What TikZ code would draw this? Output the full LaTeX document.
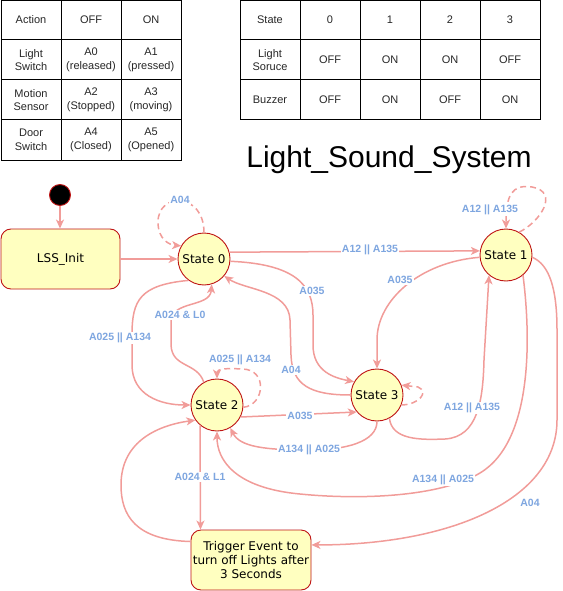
\documentclass[tikz,border=0pt]{standalone}
\usepackage{fontspec}
\setmainfont{Liberation Sans}
\newfontfamily\statefont{DejaVu Sans}
\usetikzlibrary{arrows.meta}

\definecolor{edgepink}{RGB}{241,156,153}
\definecolor{lblblue}{RGB}{126,166,224}
\definecolor{statefill}{RGB}{255,255,192}
\definecolor{stateline}{RGB}{190,20,20}

\tikzset{
  gridline/.style={draw=black, line width=1pt},
  cell/.style={font=\fontsize{11}{13.5}\selectfont, align=center, text=black!85, inner sep=0pt},
  stateball/.style={circle, draw=stateline, fill=statefill, line width=0.9pt, minimum size=52pt, inner sep=0pt, font=\statefont\fontsize{12}{14}\selectfont},
  statebox/.style={rectangle, rounded corners=10pt, draw=stateline, fill=statefill, line width=0.9pt, align=center, inner sep=0pt, font=\statefont\fontsize{12}{14.2}\selectfont},
  trans/.style={draw=edgepink, line width=1.5pt, -{Stealth[length=9pt,width=8pt,inset=2.5pt]}},
  selfloop/.style={trans, dash pattern=on 6pt off 4pt},
  translbl/.style={fill=white, inner sep=1pt, text=lblblue, font=\fontsize{10.5}{12}\selectfont\bfseries}
}

\begin{document}
\begin{tikzpicture}[x=1pt,y=1pt,yscale=-1,xscale=1]
\useasboundingbox (0,0) rectangle (562,591);

% Action table
\draw[gridline] (1,1) rectangle (181,160);
\foreach \gx in {61,121} \draw[gridline] (\gx,1) -- (\gx,160);
\foreach \gy in {40,80,120} \draw[gridline] (1,\gy) -- (181,\gy);
\foreach \cx/\cy/\ctext [count=\ci] in {31/20/Action, 91/20/OFF, 151/20/ON,
    31/60/{Light\\Switch}, 91/60/{A0\\(released)}, 151/60/{A1\\(pressed)},
    31/100/{Motion\\Sensor}, 91/100/{A2\\(Stopped)}, 151/100/{A3\\(moving)},
    31/140/{Door\\Switch}, 91/140/{A4\\(Closed)}, 151/140/{A5\\(Opened)}}
  \node[cell] (act\ci) at (\cx,\cy) {\ctext};

% State table
\draw[gridline] (240,1) rectangle (540,120);
\foreach \gx in {300,360,420,480} \draw[gridline] (\gx,1) -- (\gx,120);
\foreach \gy in {40,80} \draw[gridline] (240,\gy) -- (540,\gy);
\foreach \cx/\cy/\ctext [count=\ci] in {270/20/State, 330/20/0, 390/20/1, 450/20/2, 510/20/3,
    270/60/{Light\\Soruce}, 330/60/OFF, 390/60/ON, 450/60/ON, 510/60/OFF,
    270/100/Buzzer, 330/100/OFF, 390/100/ON, 450/100/OFF, 510/100/ON}
  \node[cell] (out\ci) at (\cx,\cy) {\ctext};

% Title
\node[anchor=base, inner sep=0pt, font=\fontsize{30}{35}\selectfont] (title) at (389,167) {Light\_Sound\_System};

% States
\node[circle, fill=black, draw=stateline, line width=0.9pt, minimum size=21pt, inner sep=0pt] (dot) at (60,195) {};
\node[statebox, minimum width=119pt, minimum height=60pt] (lss) at (60.5,259) {LSS\_Init};
\node[stateball] (s0) at (204,259) {State 0};
\node[stateball] (s1) at (506,255) {State 1};
\node[stateball] (s2) at (217,405) {State 2};
\node[stateball] (s3) at (377,395) {State 3};
\node[statebox, minimum width=120pt, minimum height=60pt] (trig) at (251,560) {Trigger Event to\\turn off Lights after\\3 Seconds};

% Transitions
\draw[trans] (dot.south) -- (dot.south |- lss.north);
\draw[trans] (lss.east) -- (s0.west);
\draw[selfloop] (s0.90) .. controls (204,192) and (158,192) .. (158,222) .. controls (158,240) and (170,245) .. (s0.150);
\draw[trans] (s0.15) -- (s1.171);
\draw[selfloop] (s1.60) .. controls (540,222) and (560,192) .. (532,187) .. controls (512,184) and (506,195) .. (s1.90);
\draw[trans] (s0.-5) .. controls (295,264) and (313,285) .. (313,315) -- (313,345) .. controls (313,372) and (335,378) .. (s3.150);
\draw[trans] (s3.180) .. controls (310,395) and (292,385) .. (291,355) -- (290,320) .. controls (289,290) and (245,290) .. (s0.-40);
\draw[trans] (s0.234) .. controls (140,285) and (132,300) .. (132,335) -- (132,365) .. controls (132,395) and (160,405) .. (s2.180);
\draw[trans] (s2.120) .. controls (197,362) and (172,368) .. (171,345) -- (171,322) .. controls (171,300) and (210,308) .. (s0.-73);
\draw[selfloop] (s2.-5) .. controls (265,405) and (268,369) .. (242,369) .. controls (225,368) and (217,369) .. (s2.90);
\draw[trans] (s2.-27) -- (s3.220);
\draw[trans] (s3.-90) .. controls (377,442) and (345,450) .. (310,450) .. controls (265,450) and (240,447) .. (s2.-60);
\draw[trans] (s1.185) .. controls (420,262) and (377,300) .. (377,340) -- (s3.90);
\draw[selfloop] (s3.-22) .. controls (418,405) and (430,392) .. (418,387) -- (s3.22);
\draw[trans] (s3.-62) .. controls (392,440) and (420,440) .. (445,439) .. controls (478,437) and (483,400) .. (484,360) -- (s1.230);
\draw[trans] (s1.-50) .. controls (530,330) and (535,440) .. (480,473) .. controls (440,497) and (360,500) .. (300,494) .. controls (235,488) and (217,460) .. (s2.-90);
\draw[trans] (s1.-5) .. controls (550,265) and (557,290) .. (557,330) -- (557,420) .. controls (557,500) and (450,545) .. (trig.14);
\draw[trans] (trig.163) .. controls (135,540) and (121,515) .. (121,485) .. controls (121,440) and (160,425) .. (s2.215);
\draw[trans] (s2.-130) -- ([xshift=-50.5pt]trig.north);

% Transition labels
\node[translbl] (l1) at (180,200) {A04};
\node[translbl] (l2) at (370,250) {A12 || A135};
\node[translbl] (l3) at (490,210) {A12 || A135};
\node[translbl] (l4) at (312,291) {A035};
\node[translbl] (l5) at (291,370) {A04};
\node[translbl] (l6) at (120,338) {A025 || A134};
\node[translbl] (l7) at (180,315) {A024 \& L0};
\node[translbl] (l8) at (240,360) {A025 || A134};
\node[translbl] (l9) at (300,416) {A035};
\node[translbl] (l10) at (309,450) {A134 || A025};
\node[translbl] (l11) at (400,280) {A035};
\node[translbl] (l12) at (472,408) {A12 || A135};
\node[translbl] (l13) at (443,480) {A134 || A025};
\node[translbl] (l14) at (530,503) {A04};
\node[translbl] (l15) at (200,477) {A024 \& L1};

\end{tikzpicture}
\end{document}
